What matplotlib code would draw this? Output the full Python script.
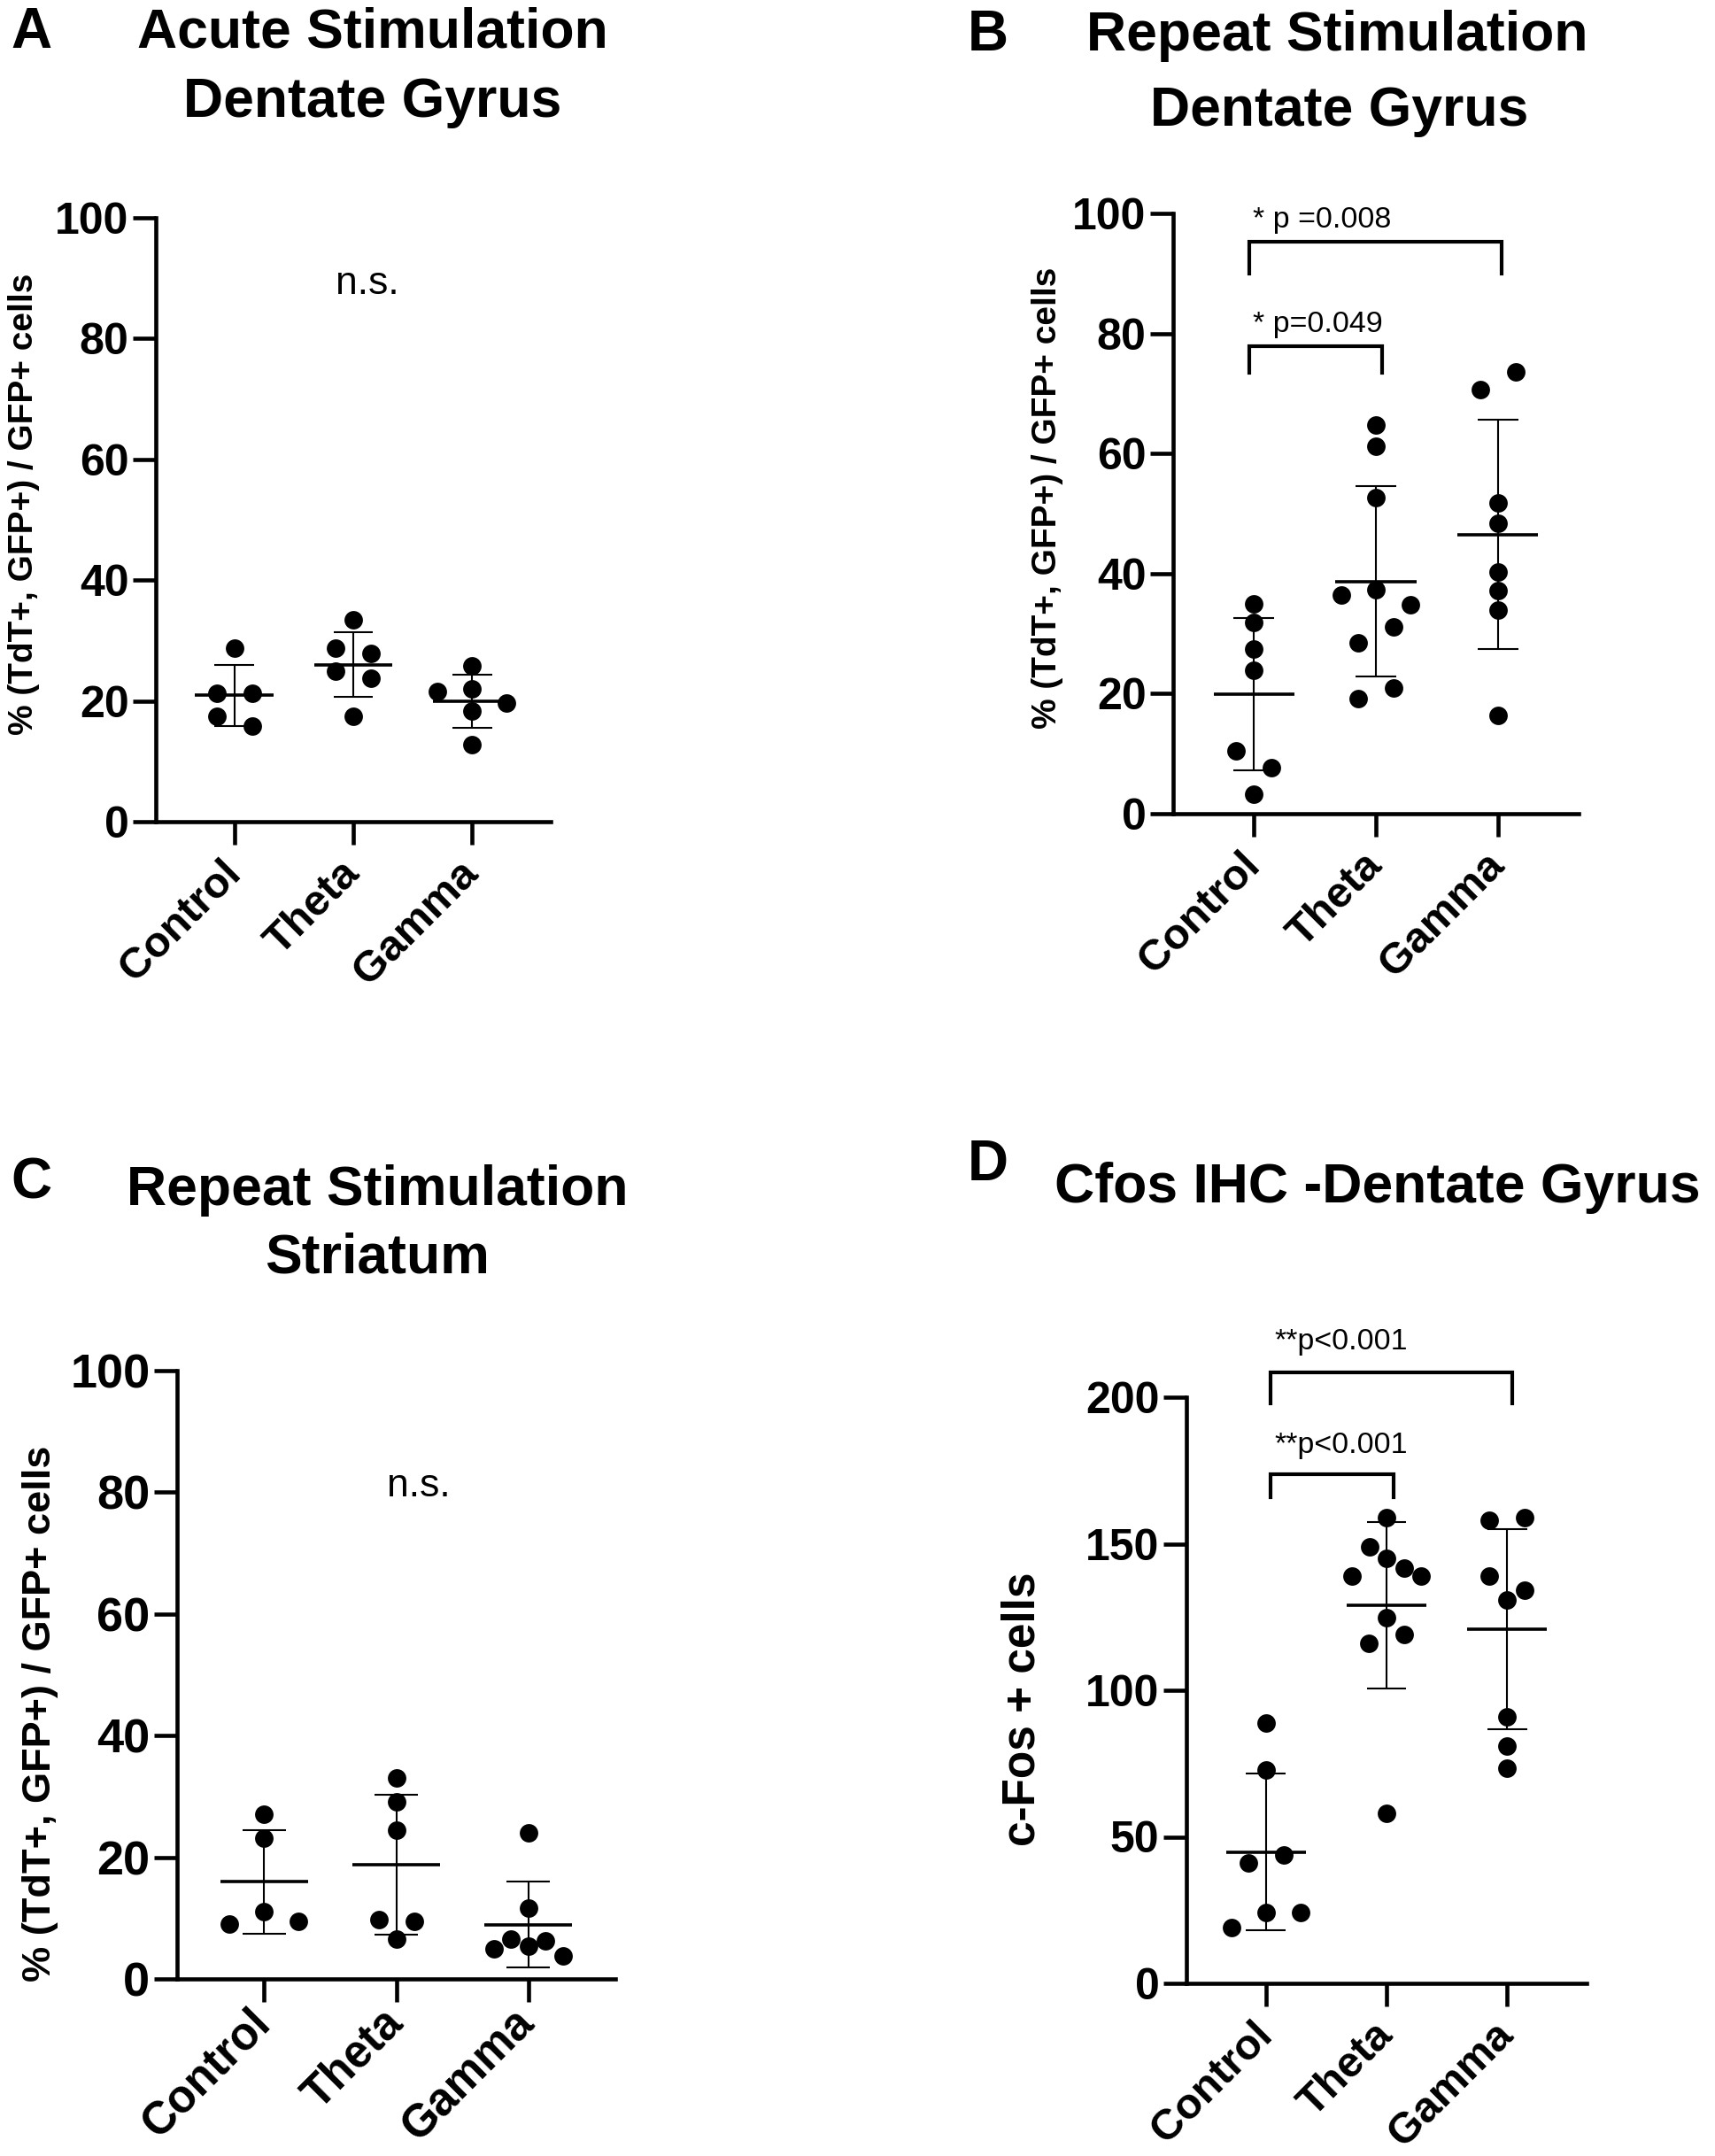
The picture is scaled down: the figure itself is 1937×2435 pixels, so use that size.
import numpy as np
import matplotlib.pyplot as plt

plt.rcParams['font.family'] = ['Liberation Sans', 'DejaVu Sans']

groups = ['Control', 'Theta', 'Gamma']

# values (each dot), mean/SD are computed from these
acute_dg_control = [28.8, 21.2, 21.2, 17.4, 15.9]
acute_dg_theta = [33.4, 28.7, 27.9, 24.9, 23.8, 17.4]
acute_dg_gamma = [25.8, 22.0, 21.5, 19.7, 18.3, 12.7]

repeat_dg_control = [35.0, 31.8, 27.4, 23.9, 10.4, 7.6, 3.2]
repeat_dg_theta = [64.8, 61.2, 52.6, 37.3, 36.5, 34.8, 28.4, 31.1, 19.2, 20.9]
repeat_dg_gamma = [70.7, 73.6, 51.8, 48.4, 40.3, 37.1, 33.9, 16.4]

repeat_str_control = [27.1, 23.1, 11.0, 9.0, 9.5]
repeat_str_theta = [33.1, 29.1, 24.4, 9.7, 9.5, 6.5]
repeat_str_gamma = [24.0, 11.7, 5.4, 6.5, 6.2, 4.9, 3.8]

cfos_control = [88.9, 72.9, 41.0, 43.9, 24.1, 18.9, 24.1]
cfos_theta = [159.0, 145.0, 149.0, 141.8, 138.9, 138.9, 124.9, 115.9, 118.9, 57.9]
cfos_gamma = [157.9, 159.0, 138.9, 134.0, 130.8, 90.8, 81.1, 73.3]

W, H = 1937, 2435
fig = plt.figure(figsize=(W / 100, H / 100), dpi=100)

XLIM = (-0.66, 2.66)


def px_axes(left, top, right, bottom):
    return fig.add_axes([left / W, 1 - bottom / H, (right - left) / W, (bottom - top) / H])


def swarm_offsets(vals, ax):
    # rows of near-equal values get spread sideways, like prism does
    l, b, w, h = ax.get_position().bounds
    y0, y1 = ax.get_ylim()
    ppu_y = h * H / (y1 - y0)
    ppu_x = w * W / (XLIM[1] - XLIM[0])
    rows = []
    for i, v in enumerate(vals):
        if rows and abs(vals[rows[-1][0]] - v) * ppu_y < 21:
            rows[-1].append(i)
        else:
            rows.append([i])
    offs = np.zeros(len(vals))
    for row in rows:
        n = len(row)
        step = min(40, 78 / max(n - 1, 1))
        if n % 2:
            slots = [0] + [s for k in range(1, n // 2 + 1) for s in (-k, k)]
        else:
            slots = [s for k in range(n // 2) for s in (-(k + 0.5), k + 0.5)]
        for i, slot in zip(row, slots):
            offs[i] = slot * step / ppu_x
    return offs


def panel(rect, data, ymax, yticks, tick_fs, cat_fs, cat_pad=18):
    ax = px_axes(*rect)
    ax.set_xlim(*XLIM)
    ax.set_ylim(0, ymax)
    for i, vals in enumerate(data):
        vals = np.asarray(vals, dtype=float)
        x = i + swarm_offsets(vals, ax)
        ax.plot(x, vals, 'o', ms=15, color='black', mew=0, clip_on=False, zorder=3)
        m, sd = vals.mean(), vals.std(ddof=1)
        ax.hlines(m, i - 0.33, i + 0.33, color='black', lw=2.6, zorder=4)
        ax.vlines(i, m - sd, m + sd, color='black', lw=1.5, zorder=2)
        ax.hlines([m - sd, m + sd], i - 0.165, i + 0.165, color='black', lw=1.5, zorder=2)
    for s in ['top', 'right']:
        ax.spines[s].set_visible(False)
    for s in ['left', 'bottom']:
        ax.spines[s].set_linewidth(3.3)
    ax.set_yticks(yticks)
    ax.set_xticks(range(len(groups)))
    ax.tick_params(direction='out', length=19, width=3.3, pad=3)
    ax.set_yticklabels([str(t) for t in yticks], fontsize=tick_fs, fontweight='bold')
    ax.set_xticklabels(groups, fontsize=cat_fs, fontweight='bold', rotation=45,
                       ha='right', va='center', rotation_mode='anchor')
    ax.tick_params(axis='x', pad=cat_pad)
    return ax


def bracket(ax, x0, x1, y, ylow, label, ty, fs):
    ax.plot([x0, x0, x1, x1], [ylow, y, y, ylow], color='black', lw=3, clip_on=False,
            solid_joinstyle='miter')
    ax.text(x0 + 0.03, ty, label, fontsize=fs, ha='left', va='baseline')


def ftext(x, y, s, **kw):
    fig.text(x / W, 1 - y / H, s, **kw)


# A
axA = panel((176, 246, 622, 928), [acute_dg_control, acute_dg_theta, acute_dg_gamma],
            100, [0, 20, 40, 60, 80, 100], 36, 35)
axA.text(1.12, 89.1, 'n.s.', fontsize=32, ha='center', va='center')

# B
axB = panel((1325, 241, 1783, 919), [repeat_dg_control, repeat_dg_theta, repeat_dg_gamma],
            100, [0, 20, 40, 60, 80, 100], 36, 35)
bracket(axB, -0.04, 2.03, 95.3, 90.0, '* p =0.008', 97.7, 24.5)
bracket(axB, -0.04, 1.05, 77.9, 73.4, '* p=0.049', 80.2, 24.5)

# C
axC = panel((200, 1548, 695, 2235), [repeat_str_control, repeat_str_theta, repeat_str_gamma],
            100, [0, 20, 40, 60, 80, 100], 39, 37, cat_pad=11)
axC.text(1.17, 81, 'n.s.', fontsize=32, ha='center', va='center')

# D
axD = panel((1340, 1578, 1792, 2240), [cfos_control, cfos_theta, cfos_gamma],
            200, [0, 50, 100, 150, 200], 36, 35)
bracket(axD, 0.04, 2.04, 208.5, 198, '**p<0.001', 216.4, 24.5)
bracket(axD, 0.04, 1.06, 173.8, 165.9, '**p<0.001', 181.1, 24.5)

# y labels
ylab = '% (TdT+, GFP+) / GFP+ cells'
ftext(27, 569, ylab, fontsize=28, fontweight='bold', rotation=90, ha='center', va='center')
ftext(1183, 562, ylab, fontsize=28, fontweight='bold', rotation=90, ha='center', va='center')
ftext(46, 1935, ylab, fontsize=32.5, fontweight='bold', rotation=90, ha='center', va='center')
ftext(1155, 1930, 'c-Fos + cells', fontsize=37, fontweight='bold', rotation=90,
      ha='center', va='center')

# titles and panel letters
title_kw = dict(fontsize=45, fontweight='bold', ha='center', va='baseline')
ftext(421, 54, 'Acute Stimulation', **title_kw)
ftext(421, 132, 'Dentate Gyrus', **title_kw)
ftext(1510, 57, 'Repeat Stimulation', **title_kw)
ftext(1513, 142, 'Dentate Gyrus', **title_kw)
ftext(426, 1361, 'Repeat Stimulation', **title_kw)
ftext(426, 1437, 'Striatum', **title_kw)
ftext(1556, 1358, 'Cfos IHC -Dentate Gyrus', **title_kw)

letter_kw = dict(fontsize=46, fontweight='bold', ha='left', va='baseline')
ftext(12, 54, 'A', **letter_kw)
ftext(1093, 57, 'B', **letter_kw)
ftext(12, 1353, 'C', **letter_kw)
ftext(1093, 1333, 'D', **letter_kw)

fig.savefig('out.png', dpi=100)
